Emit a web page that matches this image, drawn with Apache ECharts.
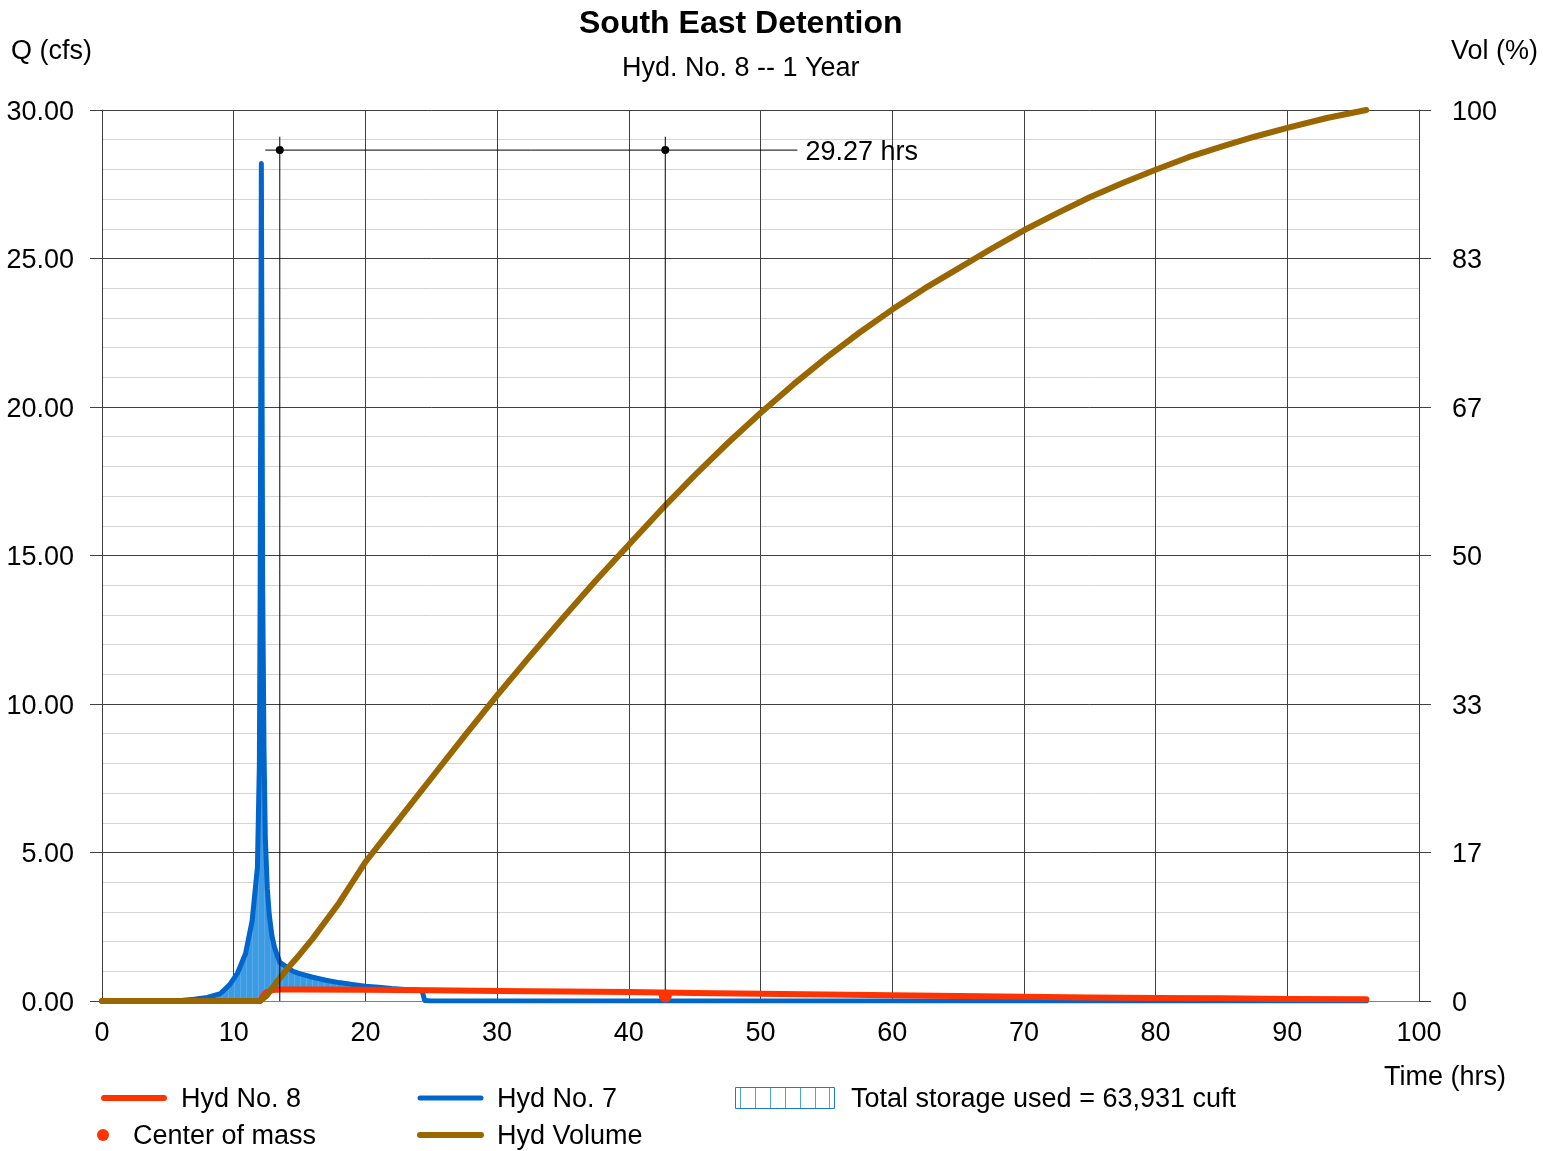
<!DOCTYPE html>
<html>
<head>
<meta charset="utf-8">
<script src="https://cdn.jsdelivr.net/npm/echarts@6/dist/echarts.min.js"></script>
<style>
html,body{margin:0;padding:0;background:#fff;}
#chart{width:1543px;height:1151px;}
</style>
</head>
<body>
<div id="chart"></div>
<script>
// ---- Data ----
const hyd7Time = [0,5.5,6,7,8,9,9.7,10.3,10.9,11.4,11.8,11.95,12.0,12.05,12.1,12.15,12.2,12.3,12.4,12.55,12.7,12.9,13.1,13.5,14,14.5,15,16,17,18,19,20,21,22,23,24,24.3,24.5,25,96];
const hyd7Flow = [0,0,0.02,0.06,0.12,0.25,0.55,0.95,1.6,2.7,4.5,8,13,20,28.2,21,14,8.5,5.5,3.8,2.9,2.2,1.8,1.3,1.15,1.0,0.92,0.8,0.7,0.62,0.56,0.5,0.46,0.42,0.39,0.37,0.35,0.02,0,0];
const hyd8Time = [0,12.0,12.2,12.5,13,13.5,15,20,25,30,35,40,45,50,55,60,65,70,75,80,85,90,96];
const hyd8Flow = [0,0,0.15,0.3,0.37,0.39,0.39,0.38,0.36,0.34,0.32,0.3,0.27,0.24,0.22,0.19,0.17,0.14,0.12,0.1,0.09,0.07,0.06];
const volTime = [0,12,12.5,13,14,15,16,17,18,19,20,22.5,25,27.5,30,32.5,35,37.5,40,42.5,45,47.5,50,52.5,55,57.5,60,62.5,65,67.5,70,72.5,75,77.5,80,82.5,85,87.5,90,93,96];
const volPct  = [0,0,0.6,1.6,3.5,5.2,7.0,9.0,11.0,13.3,15.6,20.3,25.0,29.7,34.3,38.7,43.0,47.2,51.2,55.2,59.0,62.6,66.0,69.2,72.2,75.0,77.6,80.0,82.2,84.4,86.5,88.4,90.2,91.8,93.3,94.7,95.9,97.0,98.0,99.1,100];
const centerOfMass = [42.77, 0.17];
const markTimes = [13.5, 42.77];
const markTop = 29.1;
const markLevel = 28.65;
const markSpan = [12.4, 52.8];
const markLabel = '29.27 hrs';
const storageRange = [8, 24.3];
const storageLabel = 'Total storage used = 63,931 cuft';
const xTicks = {min: 0, max: 100, interval: 10};
const qTicks = {min: 0, max: 30, interval: 5};
const volTicks = {min: 0, max: 100};

const pairs = (t, v) => t.map((x, i) => [x, v[i]]);

const FONT = '"Liberation Sans", Arial, sans-serif';
const FS = 27;
const chart = echarts.init(document.getElementById('chart'), null, {renderer: 'canvas'});

// hatch pattern for storage fill
const pc = document.createElement('canvas');
pc.width = 6; pc.height = 6;
const pctx = pc.getContext('2d');
pctx.fillStyle = '#3d9be2';
pctx.fillRect(0, 0, 6, 6);
pctx.fillStyle = '#55a9ea';
pctx.fillRect(0, 0, 1, 6);

function storagePolygon(params, api) {
  const pts = [];
  hyd7Time.forEach((t, i) => {
    if (t >= storageRange[0] && t <= storageRange[1]) pts.push(api.coord([t, hyd7Flow[i]]));
  });
  const back = [];
  hyd8Time.forEach((t, i) => {
    if (t >= storageRange[0] && t <= storageRange[1]) back.push(api.coord([t, hyd8Flow[i]]));
  });
  back.unshift(api.coord([storageRange[0], 0]));
  back.push(api.coord([storageRange[1], hyd8Flow[hyd8Time.findIndex(t => t > storageRange[1]) - 1]]));
  back.reverse();
  return {
    type: 'polygon',
    shape: {points: pts.concat(back)},
    style: {fill: {image: pc, repeat: 'repeat'}, stroke: null}
  };
}

const axisLbl = {fontFamily: FONT, fontSize: FS, color: '#000'};
const yRich = {v: {fontFamily: FONT, fontSize: FS, color: '#000', padding: [5, 0, 0, 0]}};
const major = {color: '#404040', width: 1};

function txt(text, x, y, align) {
  return {type: 'text', x: x, y: y + 2, style: {text: text, font: FS + 'px ' + FONT, fill: '#000',
    align: align || 'left', verticalAlign: 'middle'}};
}

const option = {
  animation: false,
  backgroundColor: '#fff',
  title: [
    {text: 'South East Detention', left: 574, top: 3,
     textStyle: {fontFamily: FONT, fontSize: 32, fontWeight: 'bold', color: '#000'}},
    {text: 'Hyd. No. 8 -- 1 Year', left: 617, top: 50,
     textStyle: {fontFamily: FONT, fontSize: FS, fontWeight: 'normal', color: '#000'}}
  ],
  grid: {left: 102, right: 124, top: 110, bottom: 150, containLabel: false},
  xAxis: {
    type: 'value', min: xTicks.min, max: xTicks.max, interval: xTicks.interval,
    axisLine: {show: true, lineStyle: {color: '#808080', width: 1}},
    axisTick: {show: false},
    axisLabel: Object.assign({margin: 19}, axisLbl),
    splitLine: {show: true, lineStyle: major}
  },
  yAxis: [
    {
      type: 'value', min: qTicks.min, max: qTicks.max, interval: qTicks.interval,
      axisLine: {show: true, lineStyle: {color: '#404040'}},
      axisTick: {show: true, length: 12, lineStyle: {color: '#404040'}},
      axisLabel: Object.assign({margin: 28, formatter: v => '{v|' + v.toFixed(2) + '}', rich: yRich}, axisLbl),
      splitLine: {show: true, lineStyle: major},
      minorTick: {show: false, splitNumber: 5},
      minorSplitLine: {show: true, lineStyle: {color: '#d4d4d4', width: 1}}
    },
    {
      type: 'value', min: volTicks.min, max: volTicks.max, interval: (volTicks.max - volTicks.min) / 6,
      position: 'right',
      axisLine: {show: true, lineStyle: {color: '#404040'}},
      axisTick: {show: true, length: 12, lineStyle: {color: '#404040'}},
      axisLabel: Object.assign({margin: 33, formatter: v => '{v|' + Math.round(v) + '}', rich: yRich, showMaxLabel: true}, axisLbl),
      splitLine: {show: false}
    }
  ],
  graphic: [
    txt('Q (cfs)', 11, 50),
    txt('Vol (%)', 1451, 50),
    txt('Time (hrs)', 1384, 1076),
    // legend
    {type: 'line', shape: {x1: 104, y1: 1098, x2: 164, y2: 1098}, style: {stroke: '#ff3300', lineWidth: 6, lineCap: 'round'}},
    txt('Hyd No. 8', 181, 1098),
    {type: 'circle', shape: {cx: 103, cy: 1135, r: 6}, style: {fill: '#ff3300'}},
    txt('Center of mass', 133, 1135),
    {type: 'line', shape: {x1: 420, y1: 1098, x2: 481, y2: 1098}, style: {stroke: '#0066cc', lineWidth: 5, lineCap: 'round'}},
    txt('Hyd No. 7', 497, 1098),
    {type: 'line', shape: {x1: 420, y1: 1135, x2: 481, y2: 1135}, style: {stroke: '#996600', lineWidth: 6, lineCap: 'round'}},
    txt('Hyd Volume', 497, 1135),
    {type: 'rect', shape: {x: 735.5, y: 1087.5, width: 99, height: 21}, style: {fill: '#fff', stroke: '#1f78d1', lineWidth: 1}},
    {type: 'group', children: [740, 755, 770, 785, 800, 815, 829].map(x => ({
      type: 'line', shape: {x1: x + 0.5, y1: 1088, x2: x + 0.5, y2: 1108}, style: {stroke: '#4aa3ea', lineWidth: 1}}))},
    txt(storageLabel, 851, 1098)
  ],
  series: [
    {
      type: 'custom', name: 'Total storage', renderItem: storagePolygon,
      data: [[storageRange[0], 0]], silent: true, z: 1, clip: true
    },
    {
      type: 'line', name: 'Hyd No. 7', data: pairs(hyd7Time, hyd7Flow), showSymbol: false, symbol: 'none',
      lineStyle: {color: '#0066cc', width: 5, cap: 'round', join: 'round'}, z: 2
    },
    {
      type: 'line', name: 'Hyd No. 8', data: pairs(hyd8Time, hyd8Flow), showSymbol: false, symbol: 'none',
      lineStyle: {color: '#ff3300', width: 6, cap: 'round', join: 'round'}, z: 3
    },
    {
      type: 'line', name: 'Hyd Volume', yAxisIndex: 1, data: pairs(volTime, volPct), showSymbol: false, symbol: 'none',
      lineStyle: {color: '#996600', width: 6, cap: 'round', join: 'round'}, z: 4
    },
    {
      type: 'line', name: 'mark1', data: [[markTimes[0], 0], [markTimes[0], markTop]], symbol: 'none',
      lineStyle: {color: '#000', width: 1}, z: 5
    },
    {
      type: 'line', name: 'mark2', data: [[markTimes[1], 0], [markTimes[1], markTop]], symbol: 'none',
      lineStyle: {color: '#000', width: 1}, z: 5
    },
    {
      type: 'line', name: 'markH', data: [[markSpan[0], markLevel], [markSpan[1], markLevel]], symbol: 'none',
      lineStyle: {color: '#000', width: 1}, z: 5
    },
    {
      type: 'scatter', name: 'markDots', data: markTimes.map(t => [t, markLevel]), symbolSize: 8,
      itemStyle: {color: '#000', opacity: 1}, z: 6
    },
    {
      type: 'scatter', name: 'markText', data: [[markSpan[1], markLevel]], symbolSize: 0,
      itemStyle: {opacity: 1},
      label: {show: true, position: 'right', distance: 8, offset: [0, 2], formatter: markLabel, fontFamily: FONT, fontSize: FS,
        color: '#000', opacity: 1, textBorderWidth: 0}, z: 6
    },
    {
      type: 'scatter', name: 'Center of mass', data: [centerOfMass], symbolSize: 13,
      itemStyle: {color: '#ff3300', opacity: 1}, z: 7
    }
  ]
};
chart.setOption(option);
</script>
</body>
</html>
